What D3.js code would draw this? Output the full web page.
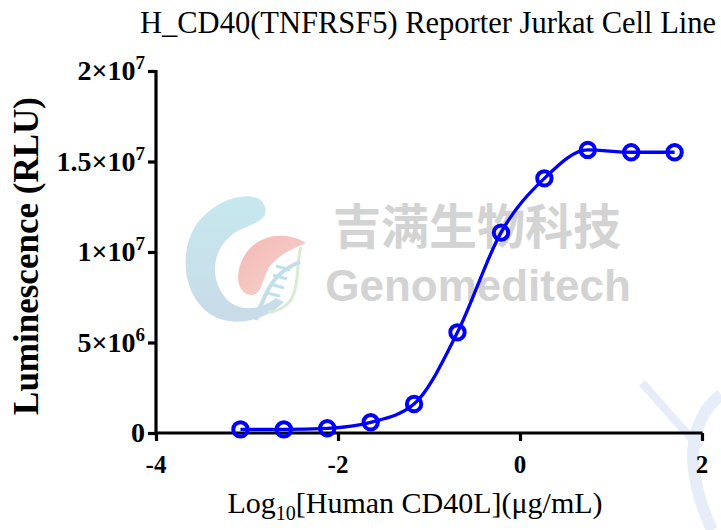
<!DOCTYPE html>
<html>
<head>
<meta charset="utf-8">
<script src="https://cdn.jsdelivr.net/npm/d3@7"></script>
<style>
  body { margin: 0; background: #fff; }
  svg { display: block; }
</style>
</head>
<body>
<div id="chart"></div>
<script>
// dose (log10 ug/mL) and luminescence
var logDose = [-3.072, -2.595, -2.118, -1.641, -1.164, -0.687, -0.209, 0.268, 0.745, 1.222, 1.699];
var rlu = [2.0e5, 2.0e5, 2.6e5, 5.9e5, 1.6e6, 5.56e6, 1.107e7, 1.407e7, 1.564e7, 1.551e7, 1.551e7];

var xTicks = [-4, -2, 0, 2];
var yTicks = [0, 5e6, 1e7, 1.5e7, 2e7];
var yTickLabels = [["0", ""], ["5×10", "6"], ["1×10", "7"], ["1.5×10", "7"], ["2×10", "7"]];

var width = 721, height = 530;
var serif = "'Liberation Serif', 'Times New Roman', serif";

var svg = d3.select("#chart")
  .append("svg")
  .attr("width", width)
  .attr("height", height);

// watermark ---------------------------------------------------------
var defs = svg.append("defs");
var gBlue = defs.append("linearGradient").attr("id", "gBlue")
  .attr("x1", "0").attr("y1", "0").attr("x2", "0").attr("y2", "1");
gBlue.append("stop").attr("offset", "0").attr("stop-color", "#c6e8ef");
gBlue.append("stop").attr("offset", "1").attr("stop-color", "#c9dbe8");
var gPink = defs.append("linearGradient").attr("id", "gPink")
  .attr("x1", "0").attr("y1", "0").attr("x2", "1").attr("y2", "1");
gPink.append("stop").attr("offset", "0").attr("stop-color", "#f3b9b4");
gPink.append("stop").attr("offset", "1").attr("stop-color", "#f6d3cf");

var wm = svg.append("g").attr("class", "watermark");
wm.append("path")
  .attr("d", "M262,201 C248,190 218,198 198,222 C178,250 182,294 210,314 C232,328 264,322 284,302 L276,298 C258,312 236,312 224,296 C208,274 214,246 236,232 C254,222 274,220 262,201 Z")
  .attr("fill", "url(#gBlue)");
wm.append("path")
  .attr("d", "M306,243 C285,230 256,234 243,258 C234,276 238,294 251,295 C262,296 262,278 270,266 C280,254 292,249 306,243 Z")
  .attr("fill", "url(#gPink)");
wm.append("path")
  .attr("d", "M301,247 C296,262 300,282 292,298 C286,308 276,312 268,312")
  .attr("fill", "none").attr("stroke", "#d7ecd2").attr("stroke-width", 3);
wm.append("path")
  .attr("d", "M300,262 C290,266 276,274 268,290 C262,302 258,312 256,320")
  .attr("fill", "none").attr("stroke", "#c5dde8").attr("stroke-width", 4);
[[276, 266, 290, 270], [273, 275, 287, 279], [270, 284, 284, 288], [267, 293, 280, 296]].forEach(function (s) {
  wm.append("line").attr("x1", s[0]).attr("y1", s[1]).attr("x2", s[2]).attr("y2", s[3])
    .attr("stroke", "#bfe1ec").attr("stroke-width", 3);
});
wm.append("text")
  .attr("x", 477).attr("y", 244)
  .attr("text-anchor", "middle")
  .attr("font-family", "'Noto Sans CJK SC', sans-serif")
  .attr("font-weight", "bold")
  .attr("font-size", 48)
  .attr("fill", "#d3d3d3")
  .text("吉满生物科技");
wm.append("text")
  .attr("x", 478).attr("y", 301)
  .attr("text-anchor", "middle")
  .attr("font-family", "'Liberation Sans', Arial, sans-serif")
  .attr("font-weight", "bold")
  .attr("font-size", 44)
  .attr("fill", "#d3d3d3")
  .text("Genomeditech");
// faint corner marks
wm.append("path")
  .attr("d", "M642,383 L700,448")
  .attr("stroke", "#e6edf9").attr("stroke-width", 8).attr("fill", "none");
wm.append("path")
  .attr("d", "M721,395 C700,410 690,440 694,470 C697,495 705,515 712,530")
  .attr("stroke", "#e6edf9").attr("stroke-width", 12).attr("fill", "none");

// scales ------------------------------------------------------------
var x = d3.scaleLinear().domain([-4, 2]).range([156, 702]);
var y = d3.scaleLinear().domain([0, 2e7]).range([433, 71]);

// title
svg.append("text")
  .attr("x", 140).attr("y", 33)
  .attr("font-family", serif)
  .attr("font-size", 30.5)
  .text("H_CD40(TNFRSF5) Reporter Jurkat Cell Line");

// axes
var xAxis = svg.append("g")
  .attr("transform", "translate(0,433)")
  .call(d3.axisBottom(x).tickValues(xTicks).tickSize(8).tickFormat(""));
var yAxis = svg.append("g")
  .attr("transform", "translate(156,0)")
  .call(d3.axisLeft(y).tickValues(yTicks).tickSize(8).tickFormat(""));

[xAxis, yAxis].forEach(function (a) {
  a.select(".domain")
    .attr("stroke", "#000").attr("stroke-width", 3.2);
  a.selectAll(".tick line")
    .attr("stroke", "#000").attr("stroke-width", 3.2);
});
xAxis.select(".domain").attr("d", "M156,0H702.5");
yAxis.select(".domain").attr("d", "M0,433V70");

// x tick labels
svg.append("g").selectAll("text")
  .data(xTicks)
  .enter()
  .append("text")
  .attr("x", function (d) { return x(d); })
  .attr("y", 473)
  .attr("text-anchor", "middle")
  .attr("font-family", serif)
  .attr("font-weight", "bold")
  .attr("font-size", 25)
  .text(function (d) { return d < 0 ? "-" + Math.abs(d) : d; });

// y tick labels with superscript
var yl = svg.append("g").selectAll("text")
  .data(yTicks)
  .enter()
  .append("text")
  .attr("x", 145)
  .attr("y", function (d) { return y(d) + 9; })
  .attr("text-anchor", "end")
  .attr("font-family", serif)
  .attr("font-weight", "bold")
  .attr("font-size", 28);
yl.append("tspan").text(function (d, i) { return yTickLabels[i][0]; });
yl.append("tspan")
  .attr("dy", -11)
  .attr("font-size", 19)
  .text(function (d, i) { return yTickLabels[i][1]; });

// axis titles
svg.append("text")
  .attr("transform", "translate(38,256) rotate(-90)")
  .attr("text-anchor", "middle")
  .attr("font-family", serif)
  .attr("font-weight", "bold")
  .attr("font-size", 35)
  .text("Luminescence (RLU)");

var xt = svg.append("text")
  .attr("x", 415).attr("y", 513)
  .attr("text-anchor", "middle")
  .attr("font-family", serif)
  .attr("font-size", 30);
xt.append("tspan").text("Log");
xt.append("tspan").attr("font-size", 20).attr("dy", 7).text("10");
xt.append("tspan").attr("dy", -7).text("[Human CD40L](μg/mL)");

// curve and points
var pts = logDose.map(function (d, i) { return [d, rlu[i]]; });
var line = d3.line()
  .x(function (d) { return x(d[0]); })
  .y(function (d) { return y(d[1]); })
  .curve(d3.curveMonotoneX);

svg.append("path")
  .datum(pts)
  .attr("d", line)
  .attr("fill", "none")
  .attr("stroke", "#0000ff")
  .attr("stroke-width", 3.3);

svg.append("g").selectAll("circle")
  .data(pts)
  .enter()
  .append("circle")
  .attr("cx", function (d) { return x(d[0]); })
  .attr("cy", function (d) { return y(d[1]); })
  .attr("r", 7.2)
  .attr("fill", "none")
  .attr("stroke", "#0000ff")
  .attr("stroke-width", 4);
</script>
</body>
</html>
